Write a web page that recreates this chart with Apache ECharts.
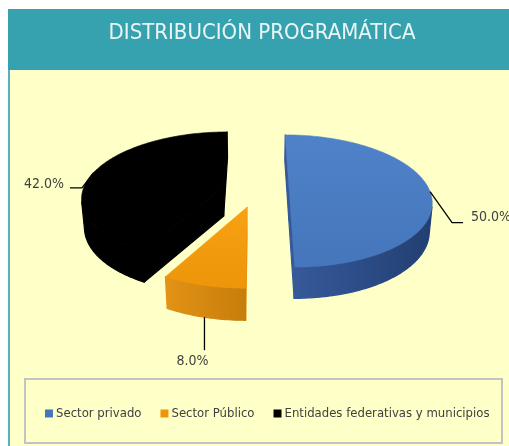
<!DOCTYPE html>
<html><head><meta charset="utf-8">
<script src="https://cdn.jsdelivr.net/npm/echarts@6/dist/echarts.min.js"></script>
<style>html,body{margin:0;padding:0;background:#fff;}#c{width:509px;height:446px;}</style>
</head><body><div id="c"></div>
<script>
// ---- data ----
const categories = ['Sector privado', 'Sector Público', 'Entidades federativas y municipios'];
const values = [50.0, 8.0, 42.0];
const titleText = 'DISTRIBUCIÓN PROGRAMÁTICA';

// ---- styles ----
const topColors = [['#4F82C8', '#4576BC'], ['#F7A112', '#EE950A'], ['#000000', '#000000']];
const sideColors = [['#36599A', '#223F72'], ['#E39315', '#C77D0B'], ['#000000', '#000000']];
const sliceZ = [4, 5, 3];
const FONT = '"Liberation Sans Narrow", "DejaVu Sans Condensed", sans-serif';
const VIEW = {cx: 255.6, cy: 191.7, S: 140.7, alpha: 27.4, D: 6.34, h: 0.23, explode: 0.24, startAngle: 90};
const LABEL = [
  {path: [[22, 31], [33, 31]], text: [41, 26], align: 'left', side: false},
  {path: [[0, 33]], text: [-12, 44], align: 'center', side: true},
  {path: [[-11.6, 15.4], [-23.6, 15.4]], text: [-29.6, 11.4], align: 'right', side: false}
];

const total = values.reduce((a, b) => a + b, 0);
const rad = d => d * Math.PI / 180;
const ca = Math.cos(rad(VIEW.alpha)), sa = Math.sin(rad(VIEW.alpha));
const cam = [0, VIEW.D * sa, -VIEW.D * ca];
function proj(p) {
  const u = p[1] * ca + p[2] * sa;
  const d = 1 + (p[2] * ca - p[1] * sa) / VIEW.D;
  return [VIEW.cx + VIEW.S * p[0] / d, VIEW.cy - VIEW.S * u / d];
}
function facing(n, p) {
  return n[0] * (cam[0] - p[0]) + n[1] * (cam[1] - p[1]) + n[2] * (cam[2] - p[2]) > 0;
}
function grad(c, vertical) {
  return {type: 'linear', x: 0, y: 0, x2: vertical ? 0 : 1, y2: vertical ? 1 : 0,
    colorStops: [{offset: 0, color: c[0]}, {offset: 1, color: c[1]}]};
}
function poly(points, fill, sw) {
  return {type: 'polygon', shape: {points}, style: {fill, stroke: fill, lineWidth: sw, lineJoin: 'round'}};
}

function renderSlice(i) {
  return function (params, api) {
    const v = api.value(0);
    let before = 0;
    for (let k = 0; k < i; k++) before += values[k];
    const a0 = VIEW.startAngle - before / total * 360;
    const a1 = a0 - v / total * 360;
    const m = (a0 + a1) / 2;
    const h = VIEW.h;
    const O = [VIEW.explode * Math.cos(rad(m)), 0, VIEW.explode * Math.sin(rad(m))];
    const rim = (t, y) => [O[0] + Math.cos(rad(t)), y, O[2] + Math.sin(rad(t))];
    const n = Math.max(2, Math.ceil(a0 - a1));
    const ts = [];
    for (let k = 0; k <= n; k++) ts.push(a0 - (a0 - a1) * k / n);
    const children = [];
    // radial faces
    const faces = [
      [a0, [-Math.sin(rad(a0)), 0, Math.cos(rad(a0))]],
      [a1, [Math.sin(rad(a1)), 0, -Math.cos(rad(a1))]]
    ];
    faces.forEach(([t, nrm]) => {
      const r = rim(t, 0);
      const mid = [(O[0] + r[0]) / 2, -h / 2, (O[2] + r[2]) / 2];
      if (facing(nrm, mid)) {
        children.push(poly([proj(O), proj(r), proj(rim(t, -h)), proj([O[0], -h, O[2]])], sideColors[i][0], 1.2));
      }
    });
    // outer wall
    let run = [];
    const flush = () => {
      if (run.length > 1) {
        const pts = run.map(t => proj(rim(t, 0))).concat(run.slice().reverse().map(t => proj(rim(t, -h))));
        children.push(poly(pts, grad(sideColors[i], false), 1.2));
      }
      run = [];
    };
    ts.forEach(t => {
      const p = rim(t, -h / 2);
      const nrm = [Math.cos(rad(t)), 0, Math.sin(rad(t))];
      if (facing(nrm, p)) run.push(t); else flush();
    });
    flush();
    // top face
    const top = [proj(O)].concat(ts.map(t => proj(rim(t, 0))));
    children.push(poly(top, grad(topColors[i], true), 0.6));
    // label
    const L = LABEL[i];
    const an = proj(rim(m, L.side ? -h : 0));
    const pts = [an].concat(L.path.map(o => [an[0] + o[0], an[1] + o[1]]));
    children.push({type: 'polyline', shape: {points: pts}, style: {stroke: '#000', lineWidth: 1.3, fill: null}});
    children.push({type: 'text', x: an[0] + L.text[0], y: an[1] + L.text[1],
      style: {text: v.toFixed(1) + '%', fill: '#404040', font: '14px ' + FONT, align: L.align, verticalAlign: 'middle'}});
    return {type: 'group', children};
  };
}

const series = categories.map((name, i) => ({
  type: 'custom', name, coordinateSystem: 'none', z: sliceZ[i],
  itemStyle: {color: topColors[i][1]},
  data: [[values[i]]],
  renderItem: renderSlice(i),
  silent: true, animation: false
}));

const chart = echarts.init(document.getElementById('c'));
chart.setOption({
  animation: false,
  graphic: {elements: [
    {type: 'rect', z: 0, shape: {x: 8, y: 9, width: 501, height: 61}, style: {fill: '#36A2AF'}},
    {type: 'rect', z: 0, shape: {x: 8, y: 70, width: 501, height: 376}, style: {fill: '#FFFFC8'}},
    {type: 'rect', z: 0, shape: {x: 8, y: 70, width: 2, height: 376}, style: {fill: '#55B1BB'}},
    {type: 'rect', z: 0, shape: {x: 25, y: 379, width: 477, height: 64}, style: {fill: null, stroke: '#C3C3C3', lineWidth: 2}},
    {type: 'text', z: 1, x: 262, y: 33, style: {text: titleText, fill: '#EAF6F6', font: '22px ' + FONT, align: 'center', verticalAlign: 'middle'}}
  ]},
  legend: {
    data: categories, left: 40, top: 402, width: 465, itemWidth: 8, itemHeight: 8, itemGap: 19, icon: 'rect',
    selectedMode: false,
    textStyle: {color: '#404040', fontSize: 13, fontFamily: FONT, padding: [0, 0, 0, -2]}
  },
  series
});
</script>
</body></html>
